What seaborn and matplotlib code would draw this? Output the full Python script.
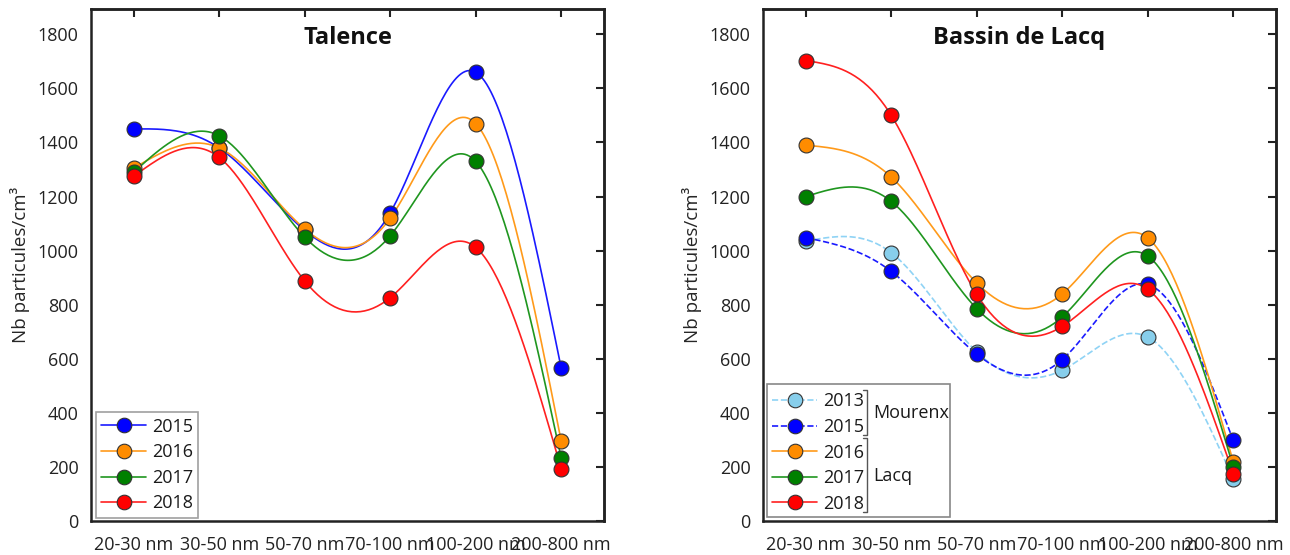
import numpy as np
import pandas as pd
import matplotlib
matplotlib.use("Agg")
import matplotlib.pyplot as plt
import seaborn as sns
from matplotlib.lines import Line2D
from matplotlib.patches import Rectangle

# ---------------- data ----------------
categories = ["20-30 nm", "30-50 nm", "50-70 nm", "70-100 nm", "100-200 nm", "200-800 nm"]
yticks = [0, 200, 400, 600, 800, 1000, 1200, 1400, 1600, 1800]

talence_years = ["2015", "2016", "2017", "2018"]
talence_2015 = [1450, 1380, 1075, 1140, 1660, 565]
talence_2016 = [1305, 1380, 1080, 1120, 1470, 295]
talence_2017 = [1290, 1425, 1050, 1055, 1330, 232]
talence_2018 = [1275, 1345, 888, 826, 1012, 193]

lacq_years = ["2013", "2015", "2016", "2017", "2018"]
lacq_2013 = [1035, 992, 625, 558, 680, 155]
lacq_2015 = [1048, 923, 617, 597, 875, 298]
lacq_2016 = [1390, 1272, 880, 840, 1047, 218]
lacq_2017 = [1200, 1182, 785, 755, 980, 200]
lacq_2018 = [1703, 1500, 838, 720, 857, 175]

group_labels = ["Mourenx", "Lacq"]
titles = ["Talence", "Bassin de Lacq"]
ylabel = "Nb particules/cm³"

colors = {"2013": "#87CEEB", "2015": "#0000FF", "2016": "#FF8C00",
          "2017": "#008000", "2018": "#FF0000"}
line_colors = {"2013": "#8fd3f5", "2015": "#1a1aff", "2016": "#ff9a1a",
               "2017": "#1f961f", "2018": "#ff2020"}


def natural_spline(y, n=40):
    y = np.asarray(y, dtype=float)
    k = len(y)
    A = np.zeros((k, k))
    b = np.zeros(k)
    A[0, 0] = 1
    A[-1, -1] = 1
    for i in range(1, k - 1):
        A[i, i - 1] = 1
        A[i, i] = 4
        A[i, i + 1] = 1
        b[i] = 6 * (y[i + 1] - 2 * y[i] + y[i - 1])
    M = np.linalg.solve(A, b)
    xs, ys = [], []
    for i in range(k - 1):
        t = np.linspace(0, 1, n, endpoint=(i == k - 2))
        s = (M[i] * (1 - t) ** 3 / 6 + M[i + 1] * t ** 3 / 6
             + (y[i] - M[i] / 6) * (1 - t) + (y[i + 1] - M[i + 1] / 6) * t)
        xs.append(i + t)
        ys.append(s)
    return np.concatenate(xs), np.concatenate(ys)


sns.set_style("white")
plt.rcParams["font.family"] = ["Open Sans", "DejaVu Sans"]
plt.rcParams["text.color"] = "#1a1a1a"

FS = 13

fig = plt.figure(figsize=(12.9, 5.55), dpi=100)
ax1 = fig.add_axes([0.0705, 0.0613, 0.3977, 0.9231])
ax2 = fig.add_axes([0.5915, 0.0613, 0.3977, 0.9231])

panels = [
    (ax1, talence_years, [talence_2015, talence_2016, talence_2017, talence_2018], ["-"] * 4),
    (ax2, lacq_years, [lacq_2013, lacq_2015, lacq_2016, lacq_2017, lacq_2018],
     ["--", "--", "-", "-", "-"]),
]

xpos = np.arange(len(categories))
for (ax, years, series, styles), title in zip(panels, titles):
    handles = []
    for yr, vals, ls in zip(years, series, styles):
        sx, sy = natural_spline(vals)
        sns.lineplot(x=sx, y=sy, ax=ax, color=line_colors[yr], linestyle=ls,
                     linewidth=1.2, sort=False, estimator=None, legend=False, zorder=2)
        sns.scatterplot(x=xpos, y=vals, ax=ax, color=colors[yr], s=115,
                        edgecolor="#333333", linewidth=0.8, zorder=3, legend=False)
        handles.append(Line2D([0], [0], color=line_colors[yr], linestyle=ls, linewidth=1.2,
                              marker="o", markersize=10.5, markerfacecolor=colors[yr],
                              markeredgecolor="#333333", markeredgewidth=0.8))
    ax.set_xlim(-0.5, 5.5)
    ax.set_ylim(0, 1895)
    ax.set_xticks(xpos)
    ax.set_xticklabels(categories)
    ax.set_yticks(yticks)
    ax.set_ylabel(ylabel, fontsize=13.5, labelpad=5)
    ax.set_xlabel("")
    ax.tick_params(axis="both", direction="out", length=6, width=1.5,
                   labelsize=FS, colors="#222222", pad=3)
    ax.tick_params(axis="x", pad=5)
    for sp in ax.spines.values():
        sp.set_linewidth(1.8)
        sp.set_color("#222222")
    ax.text(0.5, 0.943, title, transform=ax.transAxes, ha="center", va="center",
            fontsize=17, fontweight="bold", color="#111111")
    secx = ax.secondary_xaxis("top")
    secx.set_xticks(xpos)
    secx.tick_params(direction="in", length=6, width=1.5, labeltop=False, colors="#222222")
    secy = ax.secondary_yaxis("right")
    secy.set_yticks(yticks)
    secy.tick_params(direction="in", length=6, width=1.5, labelright=False, colors="#222222")
    for s in (secx, secy):
        for sp in s.spines.values():
            sp.set_linewidth(1.8)
            sp.set_color("#222222")

    if ax is ax1:
        leg = ax.legend(handles, years, loc="lower left", bbox_to_anchor=(0.0097, 0.006),
                        fontsize=FS, handlelength=2.5, handletextpad=0.3,
                        labelspacing=0.42, borderpad=0.3, borderaxespad=0,
                        frameon=True, fancybox=False)
        leg.get_frame().set_edgecolor("#888888")
        leg.get_frame().set_linewidth(1.2)
    else:
        leg = ax.legend(handles, years, loc="upper left", bbox_to_anchor=(0.0072, 0.2614),
                        fontsize=FS, handlelength=2.5, handletextpad=0.3,
                        labelspacing=0.42, borderpad=0.3, borderaxespad=0,
                        frameon=False)
        ax.add_patch(Rectangle((0.0072, 0.0078), 0.3573, 0.2596, transform=ax.transAxes,
                               fill=True, facecolor="white", edgecolor="#888888",
                               linewidth=1.2, zorder=4))
        leg.set_zorder(5)
        bx = 0.2028
        for (y0, y1) in [(0.2557, 0.1679), (0.162, 0.0176)]:
            ax.plot([bx - 0.008, bx, bx, bx - 0.008], [y0, y0, y1, y1],
                    transform=ax.transAxes, color="#555555", linewidth=1.0, zorder=6)
        ax.text(0.2144, 0.2108, group_labels[0], transform=ax.transAxes, fontsize=FS,
                va="center", ha="left", zorder=6)
        ax.text(0.2144, 0.0878, group_labels[1], transform=ax.transAxes, fontsize=FS,
                va="center", ha="left", zorder=6)

fig.savefig("out.png", dpi=100)
